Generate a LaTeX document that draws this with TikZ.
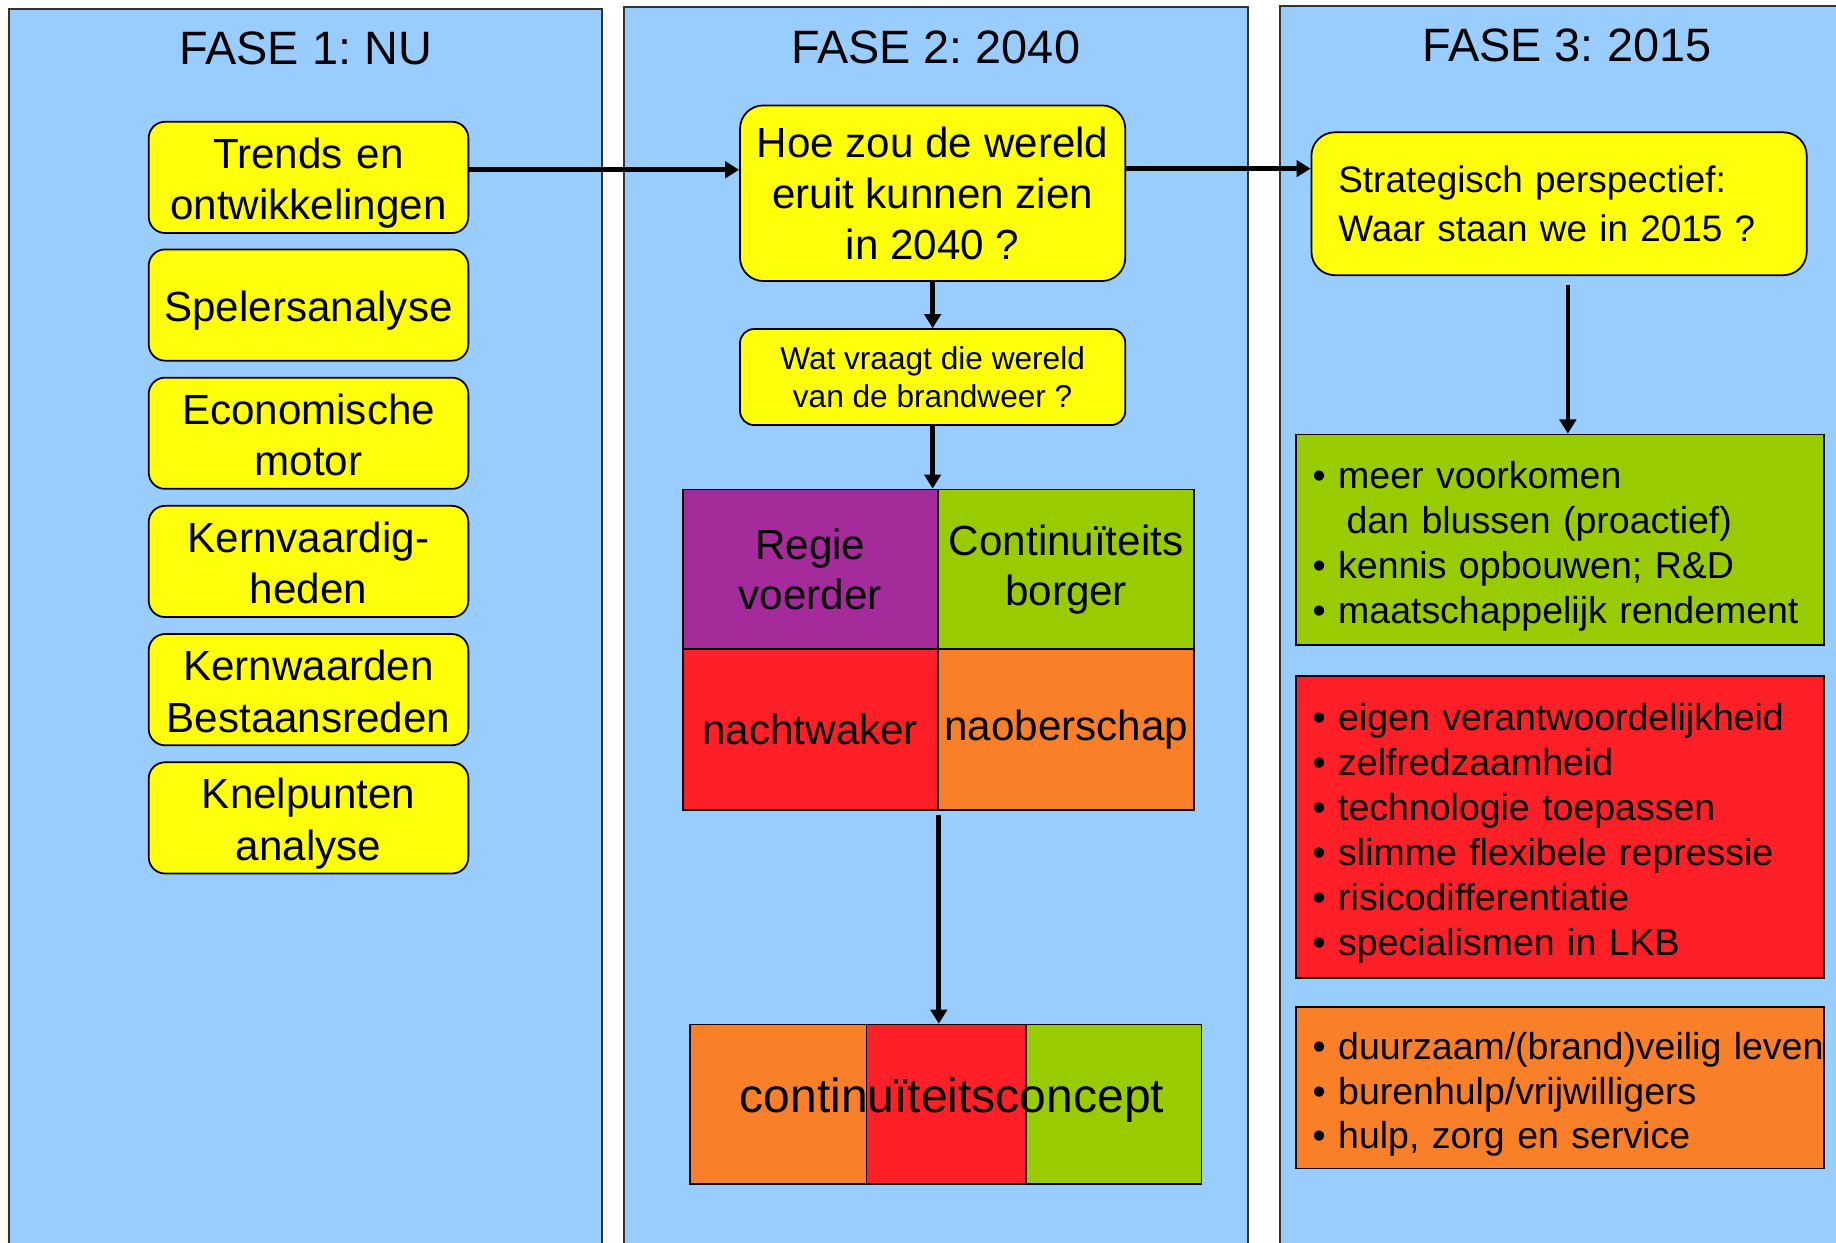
\documentclass[tikz,border=0pt]{standalone}
\usepackage{fontspec}
\setmainfont{Liberation Sans}
\usetikzlibrary{arrows.meta}
\frenchspacing
\definecolor{panelblue}{HTML}{99CCFF}
\definecolor{byellow}{HTML}{FFFF0A}
\definecolor{cpurple}{HTML}{A52A9A}
\definecolor{cgreen}{HTML}{99CC00}
\definecolor{cred}{HTML}{FF1F26}
\definecolor{corange}{HTML}{FA7F29}
\newcommand\bitem[1]{\mbox{• #1}}
\begin{document}
\begin{tikzpicture}[x=1pt,y=-1pt,
  panel/.style={fill=panelblue,draw=black!80,line width=1.5pt},
  ptitle/.style={anchor=base,inner sep=0pt,font=\fontsize{40}{48}\selectfont},
  ybox/.style={draw=black,line width=1.5pt,fill=byellow,rounded corners=14pt,
    minimum width=273pt,minimum height=95pt,inner sep=0pt,align=center,
    font=\fontsize{36}{44}\selectfont},
  lowtext/.style={execute at begin node={\rule{0pt}{#1}}},
  deeptext/.style={execute at end node={\rule[-#1]{0pt}{#1}}},
  cell/.style={draw=black,line width=1.5pt,inner sep=0pt,minimum height=137pt,
    align=center,font=\fontsize{36}{43}\selectfont},
  lst/.style={draw=black,line width=1.5pt,minimum width=451pt,inner xsep=14pt,
    inner ysep=0pt,text width=423pt,align=left,font=\fontsize{32}{38.3}\selectfont,
    lowtext=34.5pt},
  arr/.style={line width=4pt,-{Triangle[length=12pt,width=14pt]}},
  seg/.style={draw=black,line width=1.5pt}
]
\useasboundingbox (0,0) rectangle (1568,1061);
\clip (0,0) rectangle (1568,1061);
\fill[white] (0,0) rectangle (1568,1061);

% panels
\draw[panel] (8,8) rectangle (514,1090);
\draw[panel] (533,6) rectangle (1066,1090);
\draw[panel] (1093,5) rectangle (1600,1090);

\node[ptitle] (ph1) at (261,55.5) {FASE 1: NU};
\node[ptitle] (ph2) at (799,54) {FASE 2: 2040};
\node[ptitle] (ph3) at (1338,52.7) {FASE 3: 2015};

% phase 1 boxes
\begin{scope}[every node/.append style={text width=273pt,lowtext=36.5pt,deeptext=8pt}]
\node[ybox] (b1) at (263.5,151.5) {Trends en\\ontwikkelingen};
\node[ybox] (b2) at (263.5,260.5) {Spelersanalyse};
\node[ybox] (b3) at (263.5,370) {Economische\\motor};
\node[ybox] (b4) at (263.5,479.5) {Kernvaardig-\\heden};
\node[ybox] (b5) at (263.5,589) {Kernwaarden\\Bestaansreden};
\node[ybox] (b6) at (263.5,698.5) {Knelpunten\\analyse};
\end{scope}

% phase 2
\node[ybox,rounded corners=20pt,minimum width=329pt,minimum height=150pt,
  font=\fontsize{36}{43.5}\selectfont] (hoe) at (796.5,165)
  {Hoe zou de wereld\\eruit kunnen zien\\in 2040 ?};
\node[ybox,rounded corners=12pt,minimum width=329pt,minimum height=82pt,
  font=\fontsize{27}{32}\selectfont] (wat) at (796.5,322)
  {Wat vraagt die wereld\\van de brandweer ?};

\node[cell,fill=cpurple,minimum width=218pt] (rv) at (692,486.5) {Regie\\voerder};
\node[cell,fill=cgreen,minimum width=219pt] (cb) at (910.5,486.5) {Continuïteits\\borger};
\node[cell,fill=cred,minimum width=218pt] (nw) at (692,623) {nachtwaker};
\node[cell,fill=corange,minimum width=219pt] (nb) at (910.5,623) {naoberschap};

\draw[seg,fill=corange] (589,875) rectangle (740,1011);
\draw[seg,fill=cred] (740,875) rectangle (876,1011);
\draw[seg,fill=cgreen] (876,875) rectangle (1026,1011);
\node[draw=black,line width=1.5pt,minimum width=437pt,minimum height=136pt,
  inner sep=0pt] (concept) at (807.5,943) {};
\node[anchor=base,inner sep=0pt,font=\fontsize{41}{49}\selectfont] (ctext)
  at (813,950) {continuïteitsconcept};

% phase 3
\node[ybox,rounded corners=20pt,minimum width=423pt,minimum height=122pt,
  text width=377pt,align=left,inner xsep=23pt,
  font=\fontsize{31.5}{42}\selectfont] (strat) at (1331.5,174)
  {Strategisch perspectief:\\Waar staan we in 2015 ?};

\node[lst,fill=cgreen,minimum height=180pt] (green) at (1332.5,461)
  {\bitem{meer voorkomen}\\\hspace*{29pt}dan blussen (proactief)\\\bitem{kennis opbouwen; R\&D}\\\bitem{maatschappelijk rendement}};
\node[lst,fill=cred,minimum height=258pt] (red) at (1332.5,706)
  {\bitem{eigen verantwoordelijkheid}\\\bitem{zelfredzaamheid}\\\bitem{technologie toepassen}\\\bitem{slimme flexibele repressie}\\\bitem{risicodifferentiatie}\\\bitem{specialismen in LKB}};
\node[lst,fill=corange,minimum height=138pt] (orange) at (1332.5,929)
  {\bitem{duurzaam/(brand)veilig leven}\\\bitem{burenhulp/vrijwilligers}\\\bitem{hulp, zorg en service}};

% connectors
\coordinate (ya) at (0,145);
\coordinate (yb) at (0,144);
\coordinate (sa) at (1339,243);
\draw[arr] (b1.east |- ya) -- (hoe.west |- ya);
\draw[arr] (hoe.east |- yb) -- (strat.west |- yb);
\draw[arr] (hoe.south) -- (wat.north);
\draw[arr] (wat.south) -- (wat.south |- rv.north);
\draw[arr] ([yshift=-4pt]nw.south east) -- (nw.south east |- concept.north);
\draw[arr] (sa) -- (sa |- green.north);
\end{tikzpicture}
\end{document}
